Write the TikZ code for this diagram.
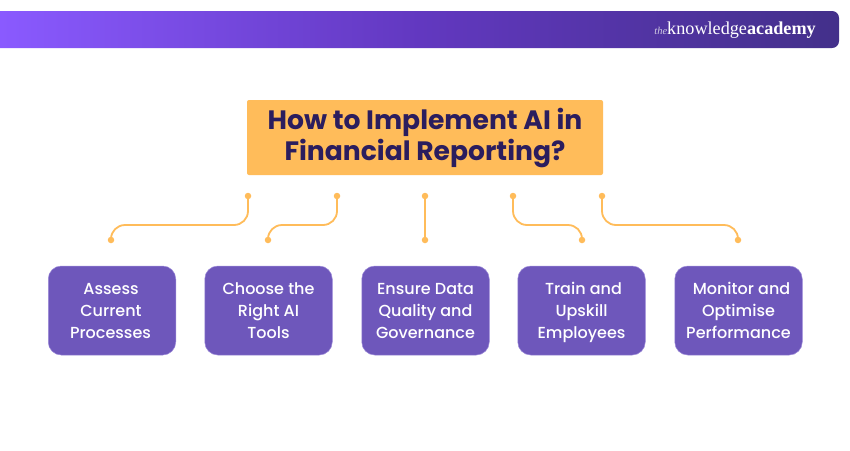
\documentclass[tikz,border=0pt]{standalone}
\usepackage{fontspec}
\setmainfont{Poppins}
\newfontfamily\logofont{Liberation Serif}
\definecolor{boxfill}{HTML}{6E57BB}
\definecolor{boxedge}{HTML}{9C8AD8}
\definecolor{amber}{HTML}{FFBC5A}
\definecolor{titleink}{HTML}{2B1D5E}
\definecolor{bandL}{HTML}{8A5AFF}
\definecolor{bandM}{HTML}{6238C0}
\definecolor{bandR}{HTML}{43308A}
\newcommand{\tallline}{\rule{0pt}{18pt}}
\newcommand{\lowline}{\rule[-6pt]{0pt}{6pt}}
\tikzset{
  stepbox/.style={draw=boxedge,line width=0.5pt,fill=boxfill,rounded corners=13pt,minimum width=127.5pt,minimum height=89pt,
    inner sep=0pt,text=white,align=center,font=\fontsize{16}{22}\selectfont\fontspec{Poppins Medium}},
  titlebox/.style={fill=amber,rounded corners=2pt,minimum width=356pt,minimum height=75pt,inner sep=0pt,align=center,
    text=titleink,font=\fontsize{26.6}{31}\selectfont\bfseries},
  dotnode/.style={circle,fill=amber,minimum size=6.5pt,inner sep=0pt},
  link/.style={draw=amber,line width=1.8pt,rounded corners=14pt},
}
\begin{document}
\begin{tikzpicture}[x=1pt,y=-1pt]
\useasboundingbox (0,0) rectangle (850,450);
\fill[white] (0,0) rectangle (850,450);
\shade[left color=bandL,right color=bandR,middle color=bandM] (0,11) -- (832,11) to[out=0,in=90] (839,18) -- (839,41) to[out=-90,in=0] (832,48) -- (0,48) -- cycle;
\node[text=white,anchor=east,inner sep=0pt] (logo) at (816,30) {\logofont\fontsize{10.5}{10}\selectfont\itshape\textcolor{white!75!bandR}{the}\fontsize{18.2}{20}\selectfont\upshape knowledge\bfseries academy};
\node[titlebox] (title) at (425,137.5) {\rule{0pt}{23pt}How to Implement AI in\\Financial Reporting?};
\node[stepbox] (s1) at (112,310.5) {\tallline\hspace*{-2pt}Assess\\\hspace*{-2pt}Current\\\hspace*{-3pt}Processes\lowline};
\node[stepbox] (s2) at (268.5,310.5) {\tallline Choose the\\Right AI\\Tools\lowline};
\node[stepbox] (s3) at (425.5,310.5) {\tallline Ensure Data\\Quality and\\Governance\lowline};
\node[stepbox] (s4) at (581.5,310.5) {\tallline\hspace*{4pt}Train and\\Upskill\\Employees\lowline};
\node[stepbox] (s5) at (738.5,310.5) {\tallline\hspace*{6pt}Monitor and\\Optimise\\Performance\lowline};
\node[dotnode] (t1) at (248,196) {};
\node[dotnode] (t2) at (337,196) {};
\node[dotnode] (t3) at (425,196) {};
\node[dotnode] (t4) at (513,196) {};
\node[dotnode] (t5) at (602,196) {};
\node[dotnode] (b1) at (111,240) {};
\node[dotnode] (b2) at (268,240) {};
\node[dotnode] (b3) at (425,240) {};
\node[dotnode] (b4) at (582,240) {};
\node[dotnode] (b5) at (738,240) {};
\draw[link] (t1.center) |- ([yshift=15pt]b1.center) -- (b1.center);
\draw[link] (t2.center) |- ([yshift=15pt]b2.center) -- (b2.center);
\draw[link] (t3.center) -- (b3.center);
\draw[link] (t4.center) |- ([yshift=15pt]b4.center) -- (b4.center);
\draw[link] (t5.center) |- ([yshift=15pt]b5.center) -- (b5.center);
\end{tikzpicture}
\end{document}
